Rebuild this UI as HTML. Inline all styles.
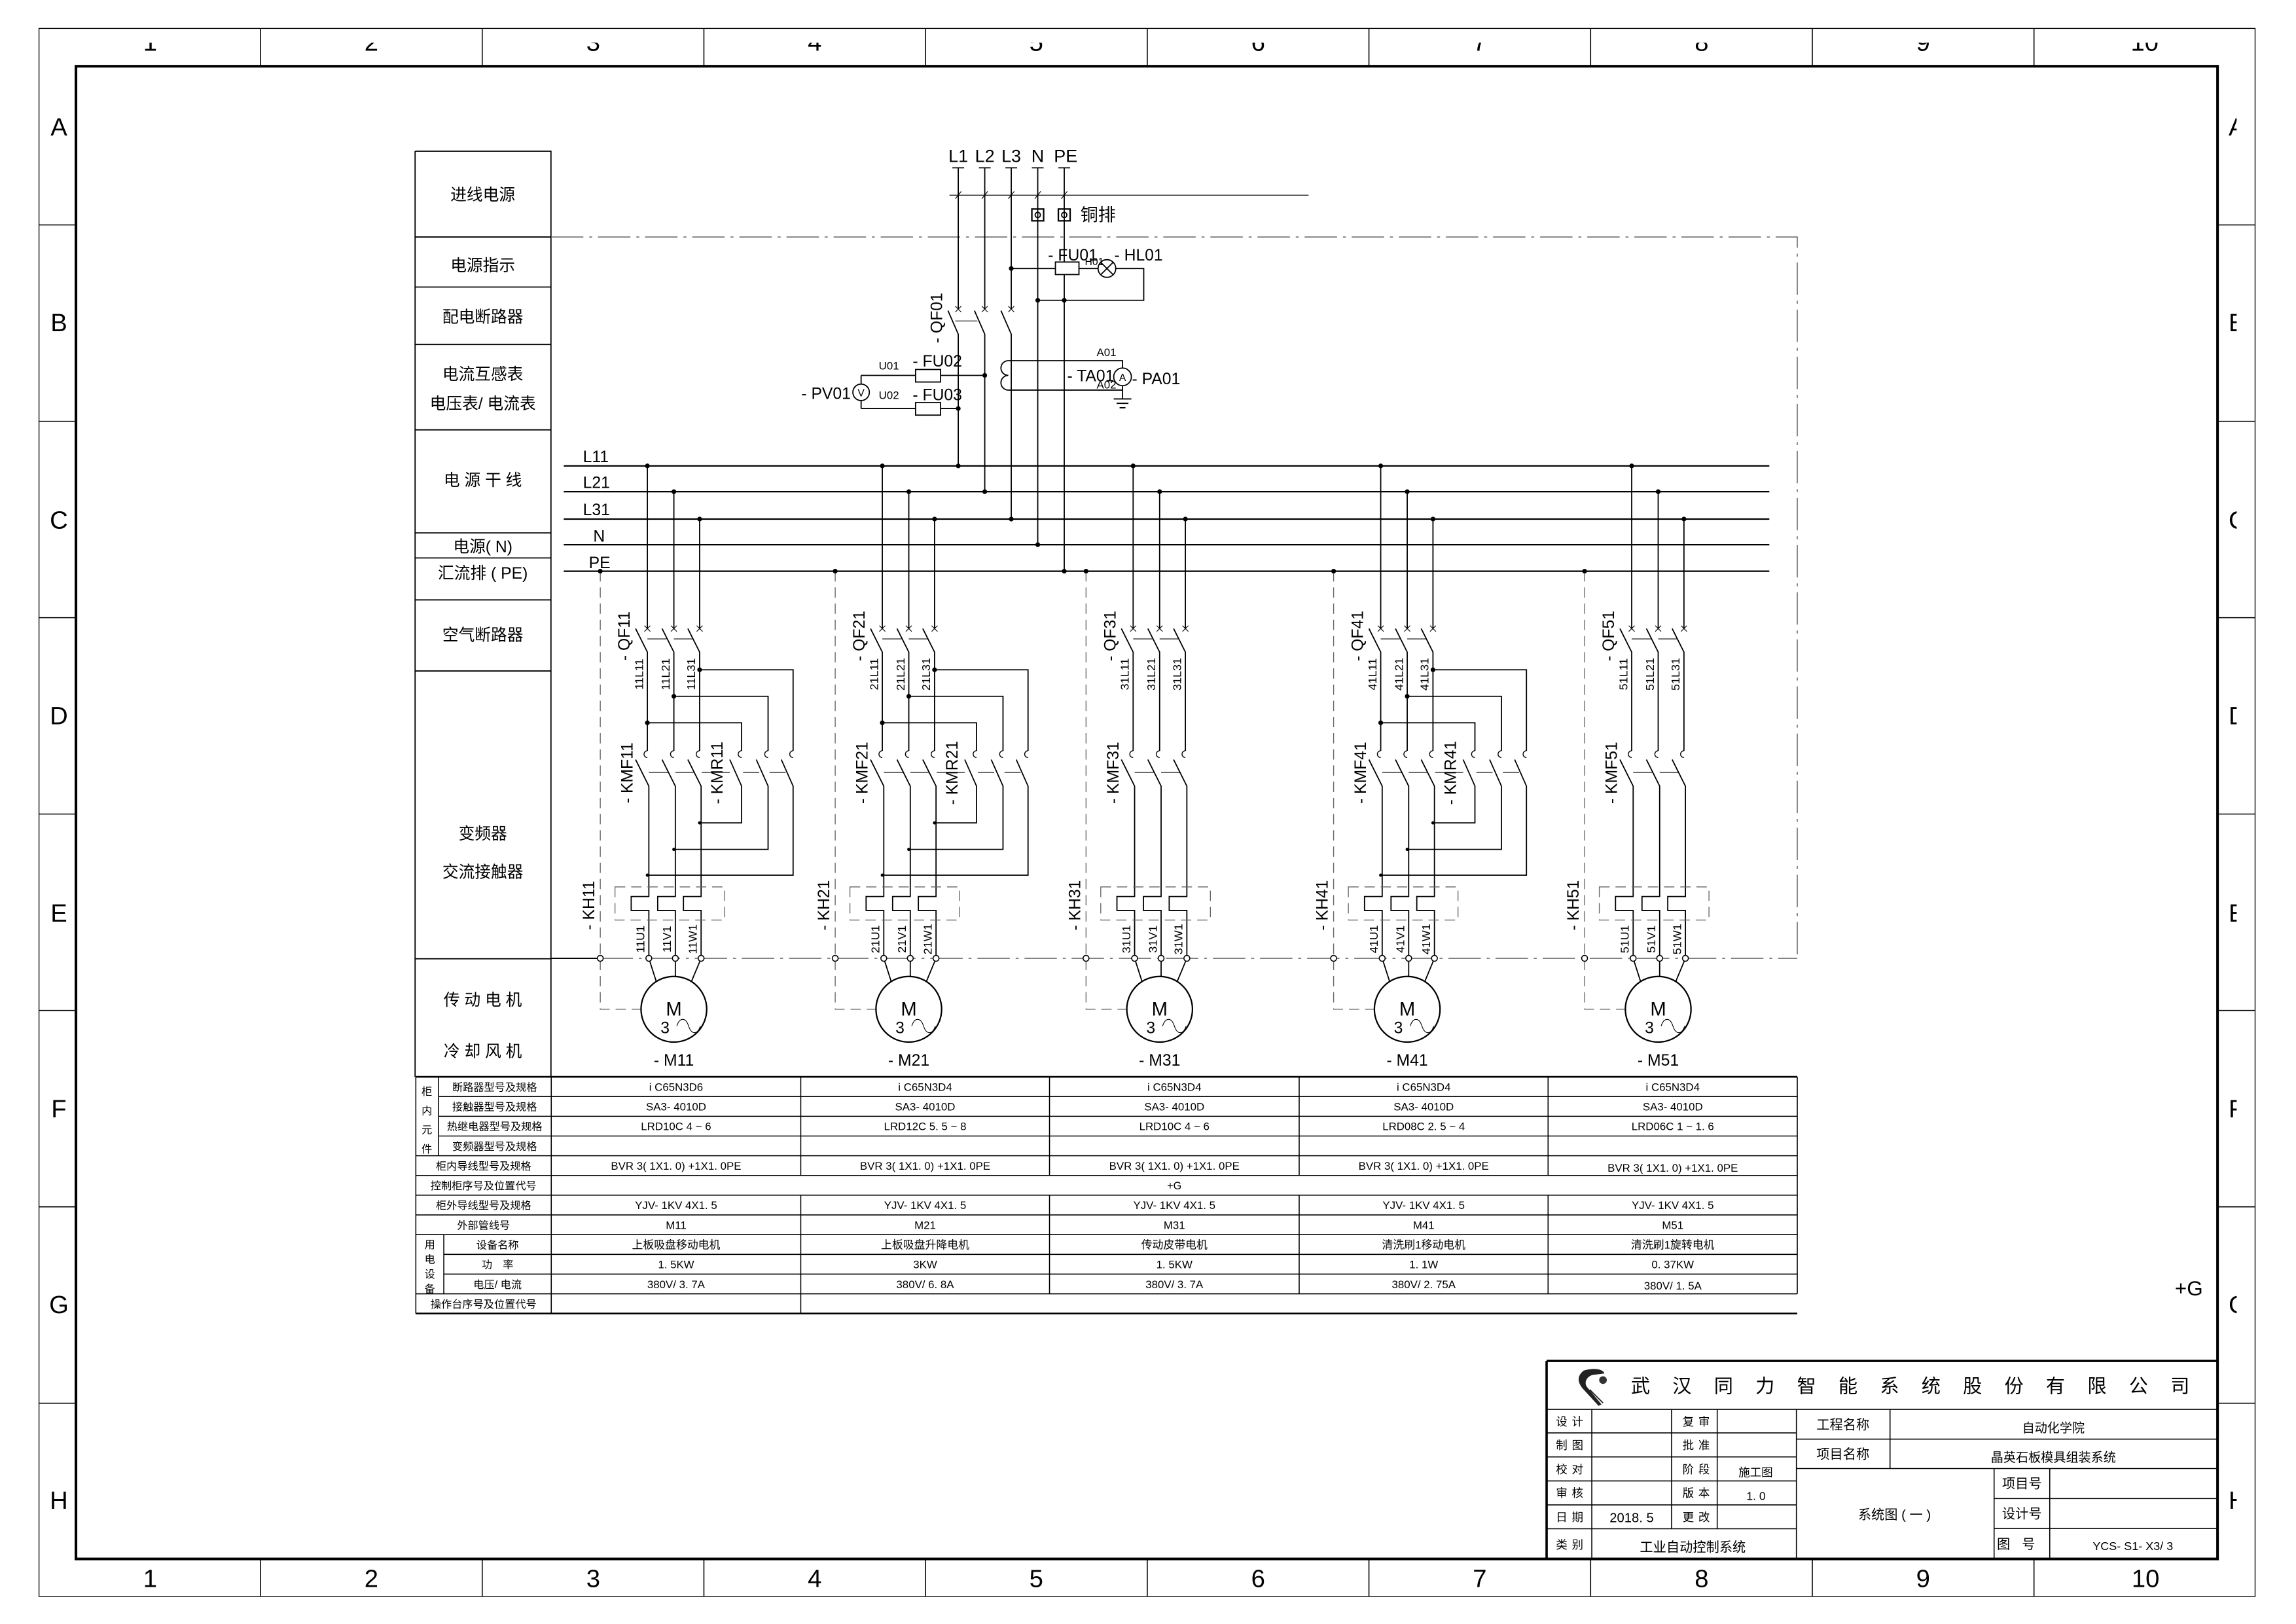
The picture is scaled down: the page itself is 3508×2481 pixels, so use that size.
<!DOCTYPE html>
<html><head><meta charset="utf-8"><style>
html,body{margin:0;padding:0;background:#fff}
svg{display:block}
text{font-family:"Liberation Sans","Noto Sans CJK SC",sans-serif;fill:#000}
</style></head><body>
<svg width="3508" height="2481" viewBox="0 0 1559.8 1103.2" preserveAspectRatio="none" xmlns="http://www.w3.org/2000/svg">
<defs>
<clipPath id="ctop"><rect x="26.5" y="29" width="1480" height="16"/></clipPath>
<clipPath id="cright"><rect x="1508" y="19" width="11.5" height="1066"/></clipPath>
<g id="tap">
 <path d="M0,-2.5l0,0" />
</g>
<g id="brA" fill="none" stroke="#000" stroke-width="0.8">
 <path d="M0,388V685.6H28" stroke="#666" stroke-width="0.6" stroke-dasharray="7,4"/>
 <path d="M32,316.5V427 M50,334V427 M67.5,352.6V427"/>
 <path d="M30,425l4,4M34,425l-4,4 M48,425l4,4M52,425l-4,4 M65.5,425l4,4M69.5,425l-4,4" stroke-width="0.5"/>
 <path d="M24,427L32,443V510 M42,427L50,443V510 M59.5,427L67.5,443V510"/>
 <path d="M32,434H45 M50,434H63" stroke-width="0.5"/>
 <path d="M32,510a2.3,2.3 0 0 0 0,4.6 M50,510a2.3,2.3 0 0 0 0,4.6 M67.5,510a2.3,2.3 0 0 0 0,4.6" stroke-width="0.6"/>
 <path d="M24,516L33,534V609H21V618.5H33V649 M42,516L51,534V609H39V618.5H51V649 M59.5,516L68.5,534V609H56.5V618.5H68.5V649"/>
 <path d="M33,524.7H46 M51,524.7H64" stroke-width="0.5"/>
 <rect x="10" y="602.5" width="74.5" height="22.5" stroke="#666" stroke-width="0.6" stroke-dasharray="7,4"/>
 <path d="M33,651L38,666.6 M51,651V663.3 M68.5,651L62,666.6"/>
 <circle cx="50" cy="685.6" r="22.3" stroke-width="1"/>
 <path d="M52,697c2,-6 6,-6 8,0s6,6 8,0" stroke-width="0.5"/>
 <g fill="#fff" stroke-width="0.7"><circle cx="0" cy="651" r="2"/><circle cx="33" cy="651" r="2"/><circle cx="51" cy="651" r="2"/><circle cx="68.5" cy="651" r="2"/></g>
 <g fill="#000" stroke="none"><circle cx="0" cy="388" r="1.6"/><circle cx="32" cy="316.5" r="1.6"/><circle cx="50" cy="334" r="1.6"/><circle cx="67.5" cy="352.6" r="1.6"/></g>
</g>
<g id="kmr" fill="none" stroke="#000" stroke-width="0.8">
 <path d="M67.5,455H131V510 M50,473H114V510 M32,491H96V510"/>
 <path d="M96,510a2.3,2.3 0 0 0 0,4.6 M114,510a2.3,2.3 0 0 0 0,4.6 M131,510a2.3,2.3 0 0 0 0,4.6" stroke-width="0.6"/>
 <path d="M88,516L96,534V559H67.5 M106,516L114,534V577H50 M123,516L131,534V594.5H32"/>
 <path d="M69,524.7H88 M97,524.7H108 M115,524.7H126" stroke-width="0.5"/>
 <g fill="#000" stroke="none"><circle cx="67.5" cy="455" r="1.6"/><circle cx="50" cy="473" r="1.6"/><circle cx="32" cy="491" r="1.6"/><circle cx="67.5" cy="559" r="1.1"/><circle cx="50" cy="577" r="1.1"/><circle cx="32" cy="594.5" r="1.1"/></g>
</g>
</defs>

<!-- Frame -->
<g fill="none" stroke="#000">
 <rect x="26.5" y="19.3" width="1505.5" height="1065.2" stroke-width="0.6"/>
 <rect x="51.6" y="45" width="1454.9" height="1014" stroke-width="1.8"/>
 <path stroke-width="0.7" d="M177,19.3V45 M327.6,19.3V45 M478.2,19.3V45 M628.8,19.3V45 M779.4,19.3V45 M930,19.3V45 M1080.6,19.3V45 M1231.2,19.3V45 M1381.8,19.3V45
 M177,1059V1084.5 M327.6,1059V1084.5 M478.2,1059V1084.5 M628.8,1059V1084.5 M779.4,1059V1084.5 M930,1059V1084.5 M1080.6,1059V1084.5 M1231.2,1059V1084.5 M1381.8,1059V1084.5
 M26.5,152.8H51.6 M26.5,286.2H51.6 M26.5,419.6H51.6 M26.5,553H51.6 M26.5,686.4H51.6 M26.5,819.8H51.6 M26.5,953.2H51.6
 M1506.5,152.8H1532 M1506.5,286.2H1532 M1506.5,419.6H1532 M1506.5,553H1532 M1506.5,686.4H1532 M1506.5,819.8H1532 M1506.5,953.2H1532"/>
</g>
<g font-size="17" text-anchor="middle">
 <g clip-path="url(#ctop)">
  <text x="102" y="34.5">1</text><text x="252.3" y="34.5">2</text><text x="403" y="34.5">3</text><text x="553.5" y="34.5">4</text><text x="704" y="34.5">5</text><text x="854.7" y="34.5">6</text><text x="1005.3" y="34.5">7</text><text x="1156" y="34.5">8</text><text x="1306.5" y="34.5">9</text><text x="1457" y="34.5">10</text>
 </g>
 <text x="102" y="1078">1</text><text x="252.3" y="1078">2</text><text x="403" y="1078">3</text><text x="553.5" y="1078">4</text><text x="704" y="1078">5</text><text x="854.7" y="1078">6</text><text x="1005.3" y="1078">7</text><text x="1156" y="1078">8</text><text x="1306.5" y="1078">9</text><text x="1457.6" y="1078">10</text>
 <text x="40" y="92">A</text><text x="40" y="225">B</text><text x="40" y="359">C</text><text x="40" y="492">D</text><text x="40" y="626">E</text><text x="40" y="759">F</text><text x="40" y="892">G</text><text x="40" y="1025">H</text>
 <g clip-path="url(#cright)" text-anchor="start">
  <text x="1514" y="92">A</text><text x="1514" y="225">B</text><text x="1514" y="359">C</text><text x="1514" y="492">D</text><text x="1514" y="626">E</text><text x="1514" y="759">F</text><text x="1514" y="892">G</text><text x="1514" y="1025">H</text>
 </g>
</g>

<!-- Left label column -->
<g fill="none" stroke="#000" stroke-width="0.8">
 <path d="M282,102.7H374.3V731.5 M282,102.7V731.5 M282,161H374.3 M282,195H374.3 M282,234H374.3 M282,292H374.3 M282,362H374.3 M282,379H374.3 M282,407.5H374.3 M282,455.8H374.3 M282,651.3H374.3"/>
</g>
<g font-size="11" text-anchor="middle">
 <text x="328" y="136">进线电源</text>
 <text x="328" y="184">电源指示</text>
 <text x="328" y="219">配电断路器</text>
 <text x="328" y="258">电流互感表</text>
 <text x="328" y="278">电压表/ 电流表</text>
 <text x="328" y="330">电 源 干 线</text>
 <text x="328" y="375">电源( N)</text>
 <text x="328" y="393">汇流排 ( PE)</text>
 <text x="328" y="435">空气断路器</text>
 <text x="328" y="570">变频器</text>
 <text x="328" y="596">交流接触器</text>
 <text x="328" y="683">传 动 电 机</text>
 <text x="328" y="718">冷 却 风 机</text>
</g>

<!-- enclosure dash-dot -->
<g fill="none" stroke="#555" stroke-width="0.6" stroke-dasharray="22,4,2,4">
 <path d="M374.3,161H1221V651"/>
 <path d="M408,651H1221"/>
</g>
<path d="M374.3,651H406" stroke="#000" stroke-width="0.8"/>

<!-- Bus lines -->
<g stroke="#000" stroke-width="1" fill="none">
 <path d="M383,316.5H1202 M383,334H1202 M383,352.6H1202 M383,370H1202 M383,388H1202"/>
</g>
<g font-size="11">
 <text x="396" y="314">L11</text><text x="396" y="331.5">L21</text><text x="396" y="350">L31</text><text x="403" y="368">N</text><text x="400" y="386">PE</text>
</g>

<!-- Incoming feed -->
<g fill="none" stroke="#000" stroke-width="0.8">
 <path d="M647,114H655 M665,114H673 M683,114H691 M701,114H709 M719,114H727"/>
 <path d="M645,132.6H889" stroke-width="0.5"/>
 <path d="M649,135l4,-5 M667,135l4,-5 M685,135l4,-5 M703,135l4,-5 M721,135l4,-5" stroke-width="0.5"/>
 <path d="M651,114V210 M669,114V210 M687,114V210"/>
 <path d="M649,208l4,4M653,208l-4,4 M667,208l4,4M671,208l-4,4 M685,208l4,4M689,208l-4,4" stroke-width="0.5"/>
 <path d="M644,211L651,227V316.5 M662,211L669,227V334 M680,211L687,227V352.6"/>
 <path d="M649,218H664" stroke-width="0.5"/>
 <path d="M705,114V370 M723,114V388"/>
 <rect x="701" y="142" width="8" height="8" stroke-width="1"/><circle cx="705" cy="146" r="1.8"/>
 <rect x="719" y="142" width="8" height="8" stroke-width="1"/><circle cx="723" cy="146" r="1.8"/>
 <path d="M687,182.4H746 M758,182.4H777V204H705"/>
 <rect x="717" y="178" width="16" height="8.5" fill="#fff"/>
 <circle cx="752" cy="182.4" r="6" fill="#fff"/>
 <path d="M747.8,178.2l8.4,8.4 M756.2,178.2l-8.4,8.4"/>
 <path d="M585,255H669 M585,277.5H651 M585,255V261 M585,272V277.5"/>
 <rect x="622" y="251" width="17" height="8.5" fill="#fff"/>
 <rect x="622" y="273.5" width="17" height="8.5" fill="#fff"/>
 <circle cx="585" cy="266.5" r="5.6" fill="#fff"/>
 <path d="M685,245H762.6V250 M685,265H762.6V262 M762.6,262V271"/>
 <path d="M685,245a5,5 0 0 0 0,10a5,5 0 0 0 0,10"/>
 <circle cx="762.6" cy="256" r="6" fill="#fff"/>
 <path d="M756.6,271H768.6 M758.6,274H766.6 M760.6,277H764.6"/>
</g>
<g fill="#000">
 <circle cx="687" cy="182.4" r="1.6"/><circle cx="705" cy="204" r="1.6"/><circle cx="723" cy="204" r="1.6"/>
 <circle cx="669" cy="255" r="1.6"/><circle cx="651" cy="277.5" r="1.6"/>
 <circle cx="651" cy="316.5" r="1.6"/><circle cx="669" cy="334" r="1.6"/><circle cx="687" cy="352.6" r="1.6"/><circle cx="705" cy="370" r="1.6"/><circle cx="723" cy="388" r="1.6"/>
</g>
<g font-size="12" text-anchor="middle">
 <text x="651" y="110">L1</text><text x="669" y="110">L2</text><text x="687" y="110">L3</text><text x="705" y="110">N</text><text x="724" y="110">PE</text>
</g>
<text x="734" y="150" font-size="12" fill="#333">铜排</text>
<g font-size="11">
 <text x="712" y="177">- FU01</text>
 <text x="737" y="180" font-size="7">H01</text>
 <text x="757" y="177">- HL01</text>
 <text x="620" y="249">- FU02</text>
 <text x="620" y="272">- FU03</text>
 <text x="578" y="271" text-anchor="end">- PV01</text>
 <text x="725" y="259">- TA01</text>
 <text x="769" y="261">- PA01</text>
 <text transform="translate(640,216) rotate(-90)" text-anchor="middle">- QF01</text>
</g>
<g font-size="7.5">
 <text x="597" y="251">U01</text><text x="597" y="271">U02</text>
 <text x="745" y="242">A01</text><text x="745" y="264">A02</text>
 <text x="585" y="269.2" text-anchor="middle" font-size="7">V</text>
 <text x="762.6" y="258.7" text-anchor="middle" font-size="7">A</text>
</g>

<!-- Branches -->
<g transform="translate(407.8,0)"><use href="#brA"/><use href="#kmr"/>
 <g font-size="11"><text transform="translate(20,432) rotate(-90)" text-anchor="middle">- QF11</text><text transform="translate(22,525) rotate(-90)" text-anchor="middle">- KMF11</text><text transform="translate(83,525) rotate(-90)" text-anchor="middle">- KMR11</text><text transform="translate(-4,615) rotate(-90)" text-anchor="middle">- KH11</text></g>
 <g font-size="8" text-anchor="middle"><text transform="translate(29,458) rotate(-90)">11L11</text><text transform="translate(47,458) rotate(-90)">11L21</text><text transform="translate(64.5,458) rotate(-90)">11L31</text><text transform="translate(30,638) rotate(-90)">11U1</text><text transform="translate(48,638) rotate(-90)">11V1</text><text transform="translate(65.5,638) rotate(-90)">11W1</text></g>
 <text x="50" y="690" font-size="13" text-anchor="middle">M</text><text x="44" y="702" font-size="11" text-anchor="middle">3</text><text x="50" y="724" font-size="11" text-anchor="middle">- M11</text>
</g>
<g transform="translate(567.4,0)"><use href="#brA"/><use href="#kmr"/>
 <g font-size="11"><text transform="translate(20,432) rotate(-90)" text-anchor="middle">- QF21</text><text transform="translate(22,525) rotate(-90)" text-anchor="middle">- KMF21</text><text transform="translate(83,525) rotate(-90)" text-anchor="middle">- KMR21</text><text transform="translate(-4,615) rotate(-90)" text-anchor="middle">- KH21</text></g>
 <g font-size="8" text-anchor="middle"><text transform="translate(29,458) rotate(-90)">21L11</text><text transform="translate(47,458) rotate(-90)">21L21</text><text transform="translate(64.5,458) rotate(-90)">21L31</text><text transform="translate(30,638) rotate(-90)">21U1</text><text transform="translate(48,638) rotate(-90)">21V1</text><text transform="translate(65.5,638) rotate(-90)">21W1</text></g>
 <text x="50" y="690" font-size="13" text-anchor="middle">M</text><text x="44" y="702" font-size="11" text-anchor="middle">3</text><text x="50" y="724" font-size="11" text-anchor="middle">- M21</text>
</g>
<g transform="translate(737.8,0)"><use href="#brA"/>
 <g font-size="11"><text transform="translate(20,432) rotate(-90)" text-anchor="middle">- QF31</text><text transform="translate(22,525) rotate(-90)" text-anchor="middle">- KMF31</text><text transform="translate(-4,615) rotate(-90)" text-anchor="middle">- KH31</text></g>
 <g font-size="8" text-anchor="middle"><text transform="translate(29,458) rotate(-90)">31L11</text><text transform="translate(47,458) rotate(-90)">31L21</text><text transform="translate(64.5,458) rotate(-90)">31L31</text><text transform="translate(30,638) rotate(-90)">31U1</text><text transform="translate(48,638) rotate(-90)">31V1</text><text transform="translate(65.5,638) rotate(-90)">31W1</text></g>
 <text x="50" y="690" font-size="13" text-anchor="middle">M</text><text x="44" y="702" font-size="11" text-anchor="middle">3</text><text x="50" y="724" font-size="11" text-anchor="middle">- M31</text>
</g>
<g transform="translate(906,0)"><use href="#brA"/><use href="#kmr"/>
 <g font-size="11"><text transform="translate(20,432) rotate(-90)" text-anchor="middle">- QF41</text><text transform="translate(22,525) rotate(-90)" text-anchor="middle">- KMF41</text><text transform="translate(83,525) rotate(-90)" text-anchor="middle">- KMR41</text><text transform="translate(-4,615) rotate(-90)" text-anchor="middle">- KH41</text></g>
 <g font-size="8" text-anchor="middle"><text transform="translate(29,458) rotate(-90)">41L11</text><text transform="translate(47,458) rotate(-90)">41L21</text><text transform="translate(64.5,458) rotate(-90)">41L31</text><text transform="translate(30,638) rotate(-90)">41U1</text><text transform="translate(48,638) rotate(-90)">41V1</text><text transform="translate(65.5,638) rotate(-90)">41W1</text></g>
 <text x="50" y="690" font-size="13" text-anchor="middle">M</text><text x="44" y="702" font-size="11" text-anchor="middle">3</text><text x="50" y="724" font-size="11" text-anchor="middle">- M41</text>
</g>
<g transform="translate(1076.5,0)"><use href="#brA"/>
 <g font-size="11"><text transform="translate(20,432) rotate(-90)" text-anchor="middle">- QF51</text><text transform="translate(22,525) rotate(-90)" text-anchor="middle">- KMF51</text><text transform="translate(-4,615) rotate(-90)" text-anchor="middle">- KH51</text></g>
 <g font-size="8" text-anchor="middle"><text transform="translate(29,458) rotate(-90)">51L11</text><text transform="translate(47,458) rotate(-90)">51L21</text><text transform="translate(64.5,458) rotate(-90)">51L31</text><text transform="translate(30,638) rotate(-90)">51U1</text><text transform="translate(48,638) rotate(-90)">51V1</text><text transform="translate(65.5,638) rotate(-90)">51W1</text></g>
 <text x="50" y="690" font-size="13" text-anchor="middle">M</text><text x="44" y="702" font-size="11" text-anchor="middle">3</text><text x="50" y="724" font-size="11" text-anchor="middle">- M51</text>
</g>

<!-- Table -->
<g fill="none" stroke="#000" stroke-width="0.7">
 <path d="M282.5,731.5H1221 M282.5,892.3H1221" stroke-width="1.2"/>
 <path d="M282.5,731.5V892.3 M374.5,731.5V892.3 M1221,731.5V878.9 M298,731.5V785.1 M301.5,838.7V878.9"/>
 <path d="M298,744.9H1221 M298,758.3H1221 M298,771.7H1221 M282.5,785.1H1221 M282.5,798.5H1221 M282.5,811.9H1221 M282.5,825.3H1221 M282.5,838.7H1221 M301.5,852.1H1221 M301.5,865.5H1221 M282.5,878.9H1221"/>
 <path d="M544,731.5V798.5 M713,731.5V798.5 M882.6,731.5V798.5 M1051.7,731.5V798.5 M544,811.9V892.3 M713,811.9V878.9 M882.6,811.9V878.9 M1051.7,811.9V878.9"/>
</g>
<g font-size="7.2" text-anchor="middle">
 <text x="336" y="741">断路器型号及规格</text>
 <text x="336" y="754.4">接触器型号及规格</text>
 <text x="336" y="767.8">热继电器型号及规格</text>
 <text x="336" y="781.2">变频器型号及规格</text>
 <text x="328.5" y="794.6">柜内导线型号及规格</text>
 <text x="328.5" y="808">控制柜序号及位置代号</text>
 <text x="328.5" y="821.4">柜外导线型号及规格</text>
 <text x="328.5" y="834.8">外部管线号</text>
 <text x="338" y="848.2">设备名称</text>
 <text x="338" y="861.6">功　率</text>
 <text x="338" y="875">电压/ 电流</text>
 <text x="328.5" y="888.4">操作台序号及位置代号</text>
 <text x="290" y="744">柜</text><text x="290" y="757">内</text><text x="290" y="770">元</text><text x="290" y="783">件</text>
 <text x="292" y="848">用</text><text x="292" y="858">电</text><text x="292" y="868">设</text><text x="292" y="878">备</text>
 <text x="797.8" y="808">+G</text>
</g>
<g font-size="7.5" text-anchor="middle">
 <text x="459.3" y="741">i C65N3D6</text><text x="459.3" y="754.4">SA3- 4010D</text><text x="459.3" y="767.8">LRD10C 4 ~ 6</text><text x="459.3" y="794.6">BVR 3( 1X1. 0) +1X1. 0PE</text><text x="459.3" y="821.4">YJV- 1KV 4X1. 5</text><text x="459.3" y="834.8">M11</text><text x="459.3" y="848.2">上板吸盘移动电机</text><text x="459.3" y="861.6">1. 5KW</text><text x="459.3" y="875">380V/ 3. 7A</text>
 <text x="628.5" y="741">i C65N3D4</text><text x="628.5" y="754.4">SA3- 4010D</text><text x="628.5" y="767.8">LRD12C 5. 5 ~ 8</text><text x="628.5" y="794.6">BVR 3( 1X1. 0) +1X1. 0PE</text><text x="628.5" y="821.4">YJV- 1KV 4X1. 5</text><text x="628.5" y="834.8">M21</text><text x="628.5" y="848.2">上板吸盘升降电机</text><text x="628.5" y="861.6">3KW</text><text x="628.5" y="875">380V/ 6. 8A</text>
 <text x="797.8" y="741">i C65N3D4</text><text x="797.8" y="754.4">SA3- 4010D</text><text x="797.8" y="767.8">LRD10C 4 ~ 6</text><text x="797.8" y="794.6">BVR 3( 1X1. 0) +1X1. 0PE</text><text x="797.8" y="821.4">YJV- 1KV 4X1. 5</text><text x="797.8" y="834.8">M31</text><text x="797.8" y="848.2">传动皮带电机</text><text x="797.8" y="861.6">1. 5KW</text><text x="797.8" y="875">380V/ 3. 7A</text>
 <text x="967.2" y="741">i C65N3D4</text><text x="967.2" y="754.4">SA3- 4010D</text><text x="967.2" y="767.8">LRD08C 2. 5 ~ 4</text><text x="967.2" y="794.6">BVR 3( 1X1. 0) +1X1. 0PE</text><text x="967.2" y="821.4">YJV- 1KV 4X1. 5</text><text x="967.2" y="834.8">M41</text><text x="967.2" y="848.2">清洗刷1移动电机</text><text x="967.2" y="861.6">1. 1W</text><text x="967.2" y="875">380V/ 2. 75A</text>
 <text x="1136.4" y="741">i C65N3D4</text><text x="1136.4" y="754.4">SA3- 4010D</text><text x="1136.4" y="767.8">LRD06C 1 ~ 1. 6</text><text x="1136.4" y="796">BVR 3( 1X1. 0) +1X1. 0PE</text><text x="1136.4" y="821.4">YJV- 1KV 4X1. 5</text><text x="1136.4" y="834.8">M51</text><text x="1136.4" y="848.2">清洗刷1旋转电机</text><text x="1136.4" y="861.6">0. 37KW</text><text x="1136.4" y="876">380V/ 1. 5A</text>
</g>
<text x="1487" y="880" font-size="14" text-anchor="middle">+G</text>

<!-- Title block -->
<g fill="none" stroke="#000" stroke-width="0.7">
 <path d="M1050.7,924.5H1506.5 M1050.7,924.5V1059" stroke-width="1.6"/>
 <path d="M1050.7,957.4H1506.5 M1220.4,957.4V1059 M1220.4,977.6H1506.5 M1220.4,997.6H1506.5 M1284,957.4V997.6 M1354.7,997.6V1059 M1392.5,997.6V1059 M1354.7,1018H1506.5 M1354.7,1038.3H1506.5"/>
 <path d="M1050.7,973.4H1220.4 M1050.7,989.7H1220.4 M1050.7,1006H1220.4 M1050.7,1022.3H1220.4 M1050.7,1038.5H1220.4 M1081.4,957.4V1059 M1135.6,957.4V1038.5 M1166.6,957.4V1038.5"/>
</g>
<g>
 <path d="M1076,931 C1072,934 1071,938 1075,943 L1086,955 L1088,954 L1078,942 C1076,939 1078,935 1082,934 L1090,933 C1089,930 1083,929 1076,931Z" fill="#222"/>
 <path d="M1080,944 L1089,953" stroke="#222" stroke-width="0.8"/>
 <circle cx="1089" cy="937.5" r="2.6" fill="#333"/>
</g>
<text x="1108" y="946" font-size="13" letter-spacing="15.2">武汉同力智能系统股份有限公司</text>
<g font-size="7.8">
 <text x="1057" y="968.5" letter-spacing="3">设计</text><text x="1057" y="984.5" letter-spacing="3">制图</text><text x="1057" y="1001" letter-spacing="3">校对</text><text x="1057" y="1017" letter-spacing="3">审核</text><text x="1057" y="1033.5" letter-spacing="3">日期</text><text x="1057" y="1052" letter-spacing="3">类别</text>
 <text x="1143" y="968.5" letter-spacing="3">复审</text><text x="1143" y="984.5" letter-spacing="3">批准</text><text x="1143" y="1001" letter-spacing="3">阶段</text><text x="1143" y="1017" letter-spacing="3">版本</text><text x="1143" y="1033.5" letter-spacing="3">更改</text>
 <text x="1181" y="1003">施工图</text>
 <text x="1193" y="1019" text-anchor="middle">1. 0</text>
 <text x="1108.5" y="1034" text-anchor="middle" font-size="9">2018. 5</text>
 <text x="1150" y="1054" text-anchor="middle" font-size="9">工业自动控制系统</text>
</g>
<g font-size="9">
 <text x="1252" y="971" text-anchor="middle">工程名称</text>
 <text x="1252" y="991" text-anchor="middle">项目名称</text>
 <text x="1395" y="973" text-anchor="middle" font-size="8.5">自动化学院</text>
 <text x="1395" y="993" text-anchor="middle" font-size="8.5">晶英石板模具组装系统</text>
 <text x="1287" y="1032" text-anchor="middle">系统图 ( 一 )</text>
 <text x="1373.6" y="1011" text-anchor="middle">项目号</text>
 <text x="1373.6" y="1031.5" text-anchor="middle">设计号</text>
 <text x="1373.6" y="1052" text-anchor="middle" letter-spacing="8">图号</text>
 <text x="1449" y="1053" text-anchor="middle" font-size="8">YCS- S1- X3/ 3</text>
</g>
</svg>
</body></html>
